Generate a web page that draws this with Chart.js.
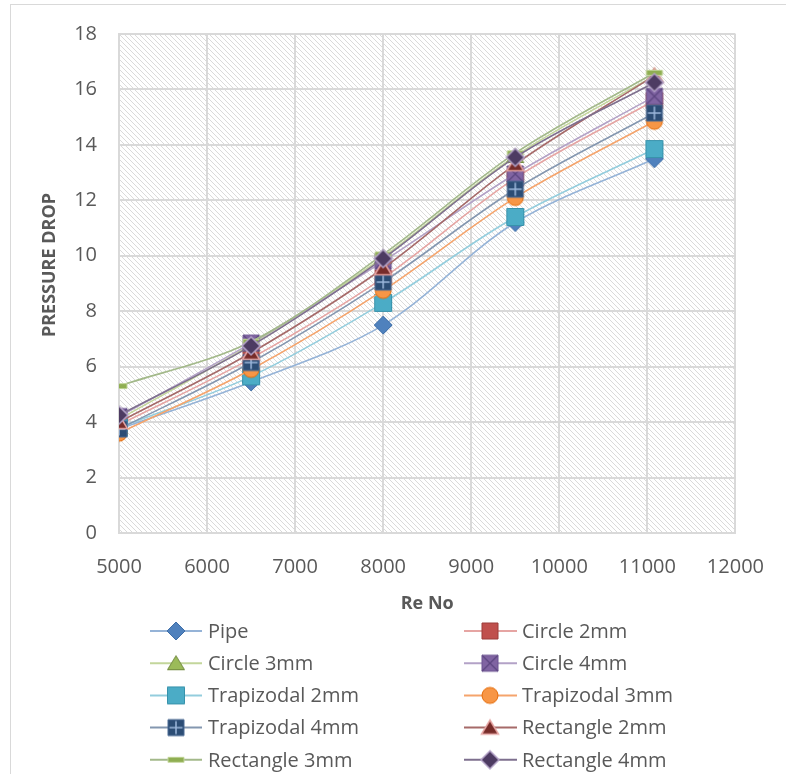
<!DOCTYPE html>
<html>
<head>
<meta charset="utf-8">
<script src="https://cdn.jsdelivr.net/npm/chart.js@4/dist/chart.umd.min.js"></script>
<style>
  html, body { margin: 0; padding: 0; background: #ffffff; }
  #wrap { width: 786px; height: 774px; position: relative; }
</style>
</head>
<body>
<div id="wrap"><canvas id="chart" width="786" height="774"></canvas></div>
<script>
// Reynolds numbers at which the pressure drop was measured
const reNo = [5000, 6500, 8000, 9500, 11080];

// Pressure drop for each geometry
const pipe        = [3.75, 5.45, 7.5, 11.2, 13.5];
const circle2mm   = [3.9, 6.3, 9.2, 12.8, 15.6];
const circle3mm   = [4.1, 6.8, 9.95, 13.6, 16.5];
const circle4mm   = [4.2, 6.85, 9.8, 12.95, 15.75];
const trap2mm     = [3.8, 5.65, 8.3, 11.4, 13.85];
const trap3mm     = [3.6, 5.9, 8.75, 12.1, 14.85];
const trap4mm     = [3.75, 6.15, 9.05, 12.4, 15.15];
const rect2mm     = [4.0, 6.5, 9.55, 13.3, 16.5];
const rect3mm     = [5.3, 6.9, 10.05, 13.7, 16.6];
const rect4mm     = [4.25, 6.75, 9.9, 13.55, 16.25];

const seriesNames = ['Pipe', 'Circle 2mm', 'Circle 3mm', 'Circle 4mm', 'Trapizodal 2mm',
                     'Trapizodal 3mm', 'Trapizodal 4mm', 'Rectangle 2mm', 'Rectangle 3mm', 'Rectangle 4mm'];
const seriesValues = [pipe, circle2mm, circle3mm, circle4mm, trap2mm, trap3mm, trap4mm, rect2mm, rect3mm, rect4mm];

// Axis tick labels
const xTicks = [5000, 6000, 7000, 8000, 9000, 10000, 11000, 12000];
const yTicks = [0, 2, 4, 6, 8, 10, 12, 14, 16, 18];

const FONT = '"Open Sans", "Noto Sans", sans-serif';
const TEXT = '#595959';
const GRID = '#d9d9d9';

// ---- marker images -------------------------------------------------------
function marker(draw) {
  const c = document.createElement('canvas');
  c.width = 22; c.height = 22;
  const g = c.getContext('2d');
  g.translate(11, 11);
  draw(g);
  return c;
}
function fs(g, fill, stroke, w) {
  g.fillStyle = fill; g.fill();
  g.lineWidth = w || 1; g.strokeStyle = stroke; g.stroke();
}
function diamond(r, fill, stroke, w) {
  return marker(g => {
    g.beginPath(); g.moveTo(0, -r); g.lineTo(r, 0); g.lineTo(0, r); g.lineTo(-r, 0); g.closePath();
    fs(g, fill, stroke, w);
  });
}
function square(h, fill, stroke, w, extra) {
  return marker(g => {
    g.beginPath(); g.rect(-h, -h, 2 * h, 2 * h);
    fs(g, fill, stroke, w);
    if (extra) extra(g, h);
  });
}
function triangle(fill, stroke, w) {
  return marker(g => {
    g.beginPath(); g.moveTo(0, -7.5); g.lineTo(8.5, 6.5); g.lineTo(-8.5, 6.5); g.closePath();
    fs(g, fill, stroke, w);
  });
}
function circle(r, fill, stroke, w) {
  return marker(g => {
    g.beginPath(); g.arc(0, 0, r, 0, Math.PI * 2);
    fs(g, fill, stroke, w);
  });
}
function dash(fill, stroke) {
  return marker(g => {
    g.beginPath(); g.rect(-8, -2.5, 16, 5);
    fs(g, fill, stroke, 1);
  });
}

const markers = [
  diamond(9, '#4F81BD', '#3E6EA8', 1),
  square(8, '#C0504D', '#9B3D3B', 1),
  triangle('#9BBB59', '#71893F', 1),
  square(8, '#8064A2', '#6A5290', 1, (g, h) => {
    g.beginPath(); g.moveTo(-h, -h); g.lineTo(h, h); g.moveTo(h, -h); g.lineTo(-h, h);
    g.strokeStyle = '#5C4680'; g.lineWidth = 1.2; g.stroke();
  }),
  square(8.5, '#4BACC6', '#3792AB', 1),
  circle(8, '#F79646', '#E46C0A', 1),
  square(8, '#2C4D75', '#4A6A94', 1, (g, h) => {
    g.beginPath(); g.moveTo(0, -h + 1.5); g.lineTo(0, h - 1.5); g.moveTo(-h + 1.5, 0); g.lineTo(h - 1.5, 0);
    g.strokeStyle = '#9DB8DC'; g.lineWidth = 1.5; g.stroke();
  }),
  triangle('#772C2A', '#E6A5A3', 1.5),
  dash('#8FAE52', '#C3D69B'),
  diamond(9, '#4D3B62', '#B3A2C7', 1.5)
];

const lineColors = ['#95B3D7', '#E6A5A3', '#C3D69B', '#B3A2C7', '#93CDDD',
                    '#F5A46C', '#8497B0', '#A66A69', '#A3B98A', '#7E6F8E'];

const datasets = seriesNames.map((name, i) => ({
  label: name,
  data: reNo.map((x, k) => ({ x: x, y: seriesValues[i][k] })),
  borderColor: lineColors[i],
  backgroundColor: lineColors[i],
  borderWidth: 1.6,
  tension: 0.33,
  pointStyle: markers[i],
  pointRadius: 8,
  pointHoverRadius: 8,
  order: seriesNames.length - 1 - i
}));

// ---- hatched plot background --------------------------------------------
function hatchPattern(ctx) {
  const n = 5;
  const p = document.createElement('canvas');
  p.width = n; p.height = n;
  const g = p.getContext('2d');
  g.fillStyle = '#ffffff'; g.fillRect(0, 0, n, n);
  g.fillStyle = '#dadada';
  for (let i = 0; i < n; i++) g.fillRect(i, i, 1, 1);
  return ctx.createPattern(p, 'repeat');
}

const backdrop = {
  id: 'backdrop',
  beforeDraw(chart) {
    const { ctx, chartArea: a } = chart;
    ctx.save();
    ctx.fillStyle = '#ffffff';
    ctx.fillRect(0, 0, chart.width, chart.height);
    ctx.strokeStyle = GRID; ctx.lineWidth = 1;
    ctx.strokeRect(10.5, 4.5, chart.width + 10, chart.height + 10);
    ctx.fillStyle = hatchPattern(ctx);
    ctx.fillRect(a.left, a.top, a.right - a.left, a.bottom - a.top);
    ctx.restore();
  }
};

// ---- vertical axis title and two-column legend ---------------------------
const decorations = {
  id: 'decorations',
  afterDraw(chart) {
    const ctx = chart.ctx;
    ctx.save();
    ctx.fillStyle = TEXT;
    ctx.font = 'bold 18px ' + FONT;
    ctx.textAlign = 'center'; ctx.textBaseline = 'middle';
    ctx.translate(50, 265); ctx.rotate(-Math.PI / 2);
    ctx.fillText('PRESSURE DROP', 0, 0);
    ctx.restore();

    const cols = [
      { x0: 150, x1: 202, mx: 176, tx: 208 },
      { x0: 464, x1: 517, mx: 490, tx: 522 }
    ];
    ctx.save();
    ctx.font = '20px ' + FONT;
    ctx.textAlign = 'left'; ctx.textBaseline = 'middle';
    chart.data.datasets.forEach((ds, i) => {
      const c = cols[i % 2];
      const y = 631 + Math.floor(i / 2) * 32.2;
      ctx.strokeStyle = ds.borderColor; ctx.lineWidth = 2;
      ctx.beginPath(); ctx.moveTo(c.x0, y); ctx.lineTo(c.x1, y); ctx.stroke();
      Chart.helpers.drawPoint(ctx, { pointStyle: ds.pointStyle, radius: 8, rotation: 0 }, c.mx, y);
      ctx.fillStyle = TEXT;
      ctx.fillText(ds.label, c.tx, y + 1);
    });
    ctx.restore();
  }
};

new Chart(document.getElementById('chart'), {
  type: 'line',
  data: { datasets: datasets },
  plugins: [backdrop, decorations],
  options: {
    responsive: false,
    animation: false,
    events: [],
    layout: { padding: { left: 0, top: 33, right: 46, bottom: 151 } },
    plugins: { legend: { display: false }, tooltip: { enabled: false } },
    scales: {
      x: {
        type: 'linear',
        min: xTicks[0], max: xTicks[xTicks.length - 1],
        afterBuildTicks: s => { s.ticks = xTicks.map(v => ({ value: v })); },
        afterFit: s => { s.height = 90; },
        grid: { color: GRID, lineWidth: 2, drawTicks: false },
        border: { color: GRID, width: 2 },
        ticks: { padding: 22, color: TEXT, font: { family: FONT, size: 20 }, callback: v => String(v) },
        title: { display: true, text: 'Re No', color: TEXT, font: { family: FONT, size: 18, weight: 'bold' },
                 padding: { top: 4, bottom: 8 } }
      },
      y: {
        min: yTicks[0], max: yTicks[yTicks.length - 1],
        afterBuildTicks: s => { s.ticks = yTicks.map(v => ({ value: v })); },
        afterFit: s => { s.width = 119; },
        grid: { color: GRID, lineWidth: 2, drawTicks: false },
        border: { color: GRID, width: 2 },
        ticks: { padding: 22, color: TEXT, font: { family: FONT, size: 20 }, callback: v => String(v) }
      }
    }
  }
});
</script>
</body>
</html>
